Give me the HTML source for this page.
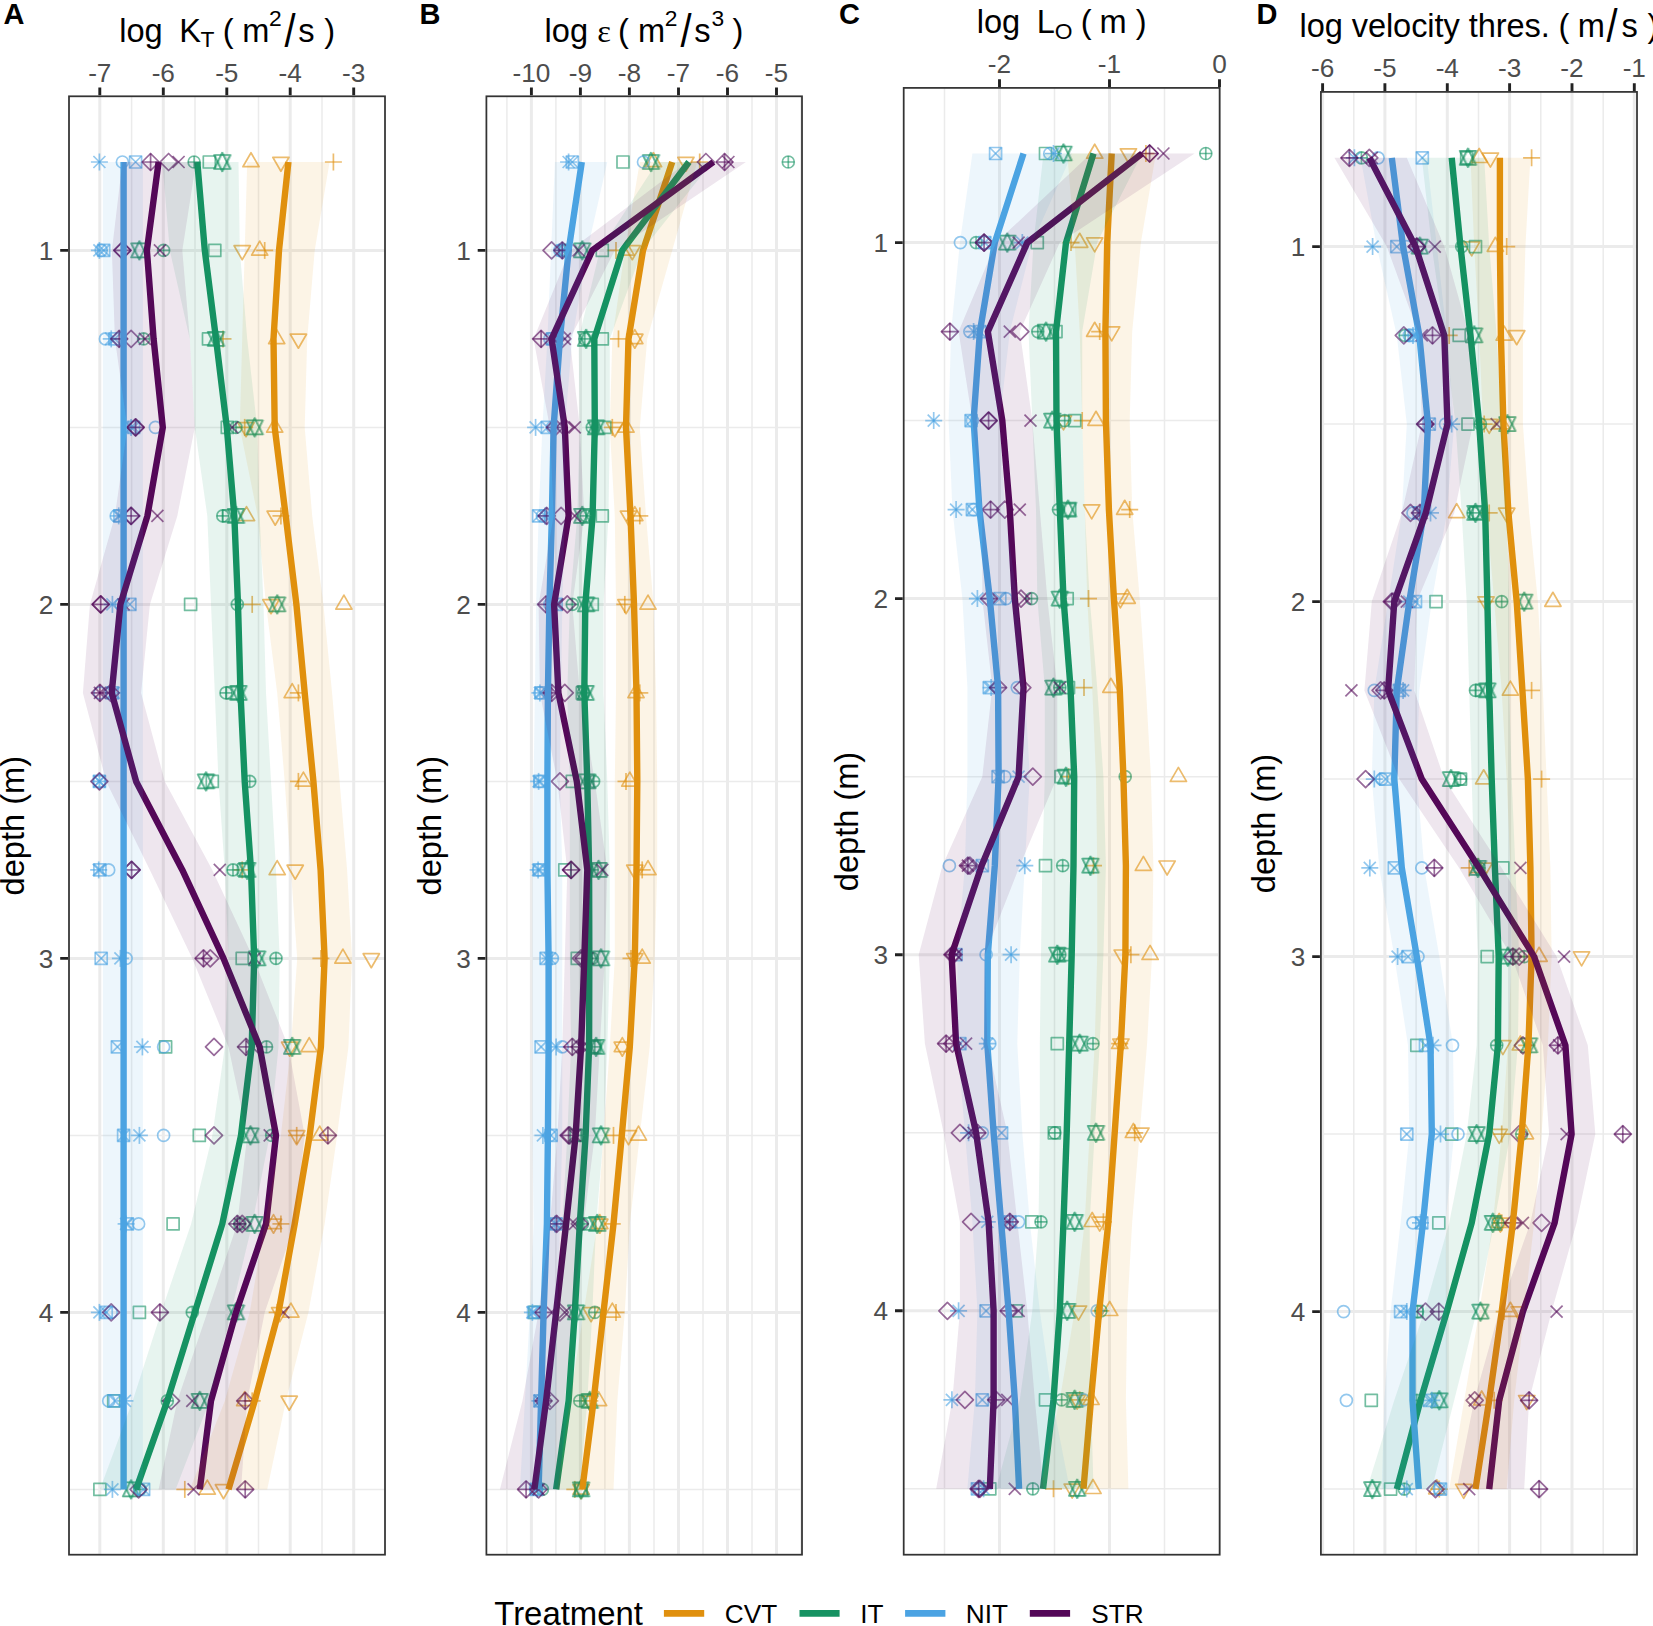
<!DOCTYPE html>
<html lang="en"><head><meta charset="utf-8"><title>Figure</title>
<style>html,body{margin:0;padding:0;background:#fff}svg{display:block}text{font-family:"Liberation Sans", sans-serif;fill:#000}.tk{font-size:26.2px;fill:#4D4D4D}.ti{font-size:32.6px}.ss{font-size:22.8px}.sl{font-size:46.5px}.sy{font-family:"Liberation Serif",serif;font-size:32.6px}.lg{font-size:26.2px}.tag{font-size:29px;font-weight:bold}</style></head><body>
<svg width="1653" height="1626" viewBox="0 0 1653 1626">
<rect width="1653" height="1626" fill="#fff"/>
<defs><g id="msq"><rect x="-6" y="-6" width="12" height="12"/></g><g id="mci"><circle r="6"/></g><g id="mtu"><path d="M0 -9.3L8.1 4.7L-8.1 4.7Z"/></g><g id="mtd"><path d="M0 9.3L8.1 -4.7L-8.1 -4.7Z"/></g><g id="mpl"><path d="M-8.5 0L8.5 0"/><path d="M0 -8.5L0 8.5"/></g><g id="mcr"><path d="M-6 -6L6 6"/><path d="M-6 6L6 -6"/></g><g id="mdi"><path d="M-8.5 0L0 -8.5L8.5 0L0 8.5Z"/></g><g id="msx"><rect x="-6" y="-6" width="12" height="12"/><path d="M-6 -6L6 6"/><path d="M-6 6L6 -6"/></g><g id="mdp"><path d="M-8.5 0L0 -8.5L8.5 0L0 8.5Z"/><path d="M-8.5 0L8.5 0"/><path d="M0 -8.5L0 8.5"/></g><g id="mcp"><circle r="6"/><path d="M-6 0L6 0"/><path d="M0 -6L0 6"/></g><g id="mst"><path d="M-0.3 -9.3L7.8 7L-8.4 7Z"/><path d="M-0.3 9.3L7.8 -7L-8.4 -7Z"/><path stroke-opacity="0.3" d="M0.8 -9.3L8.9 7L-7.3 7Z"/><path stroke-opacity="0.3" d="M0.8 9.3L8.9 -7L-7.3 -7Z"/></g><g id="mas"><path d="M-8.5 0L8.5 0"/><path d="M0 -8.5L0 8.5"/><path d="M-6 -6L6 6"/><path d="M-6 6L6 -6"/></g></defs>
<clipPath id="clipA"><rect x="69" y="96.3" width="316" height="1458.4"/></clipPath>
<g clip-path="url(#clipA)">
<path d="M131.6 96.3V1554.7M195 96.3V1554.7M258.5 96.3V1554.7M322 96.3V1554.7M69 427.4H384.9M69 781.4H384.9M69 1135.4H384.9M69 1489.4H384.9" stroke="#EBEBEB" stroke-width="1.5" fill="none"/>
<path d="M99.8 96.3V1554.7M163.3 96.3V1554.7M226.8 96.3V1554.7M290.2 96.3V1554.7M353.7 96.3V1554.7M69 250.4H384.9M69 604.4H384.9M69 958.4H384.9M69 1312.4H384.9" stroke="#EBEBEB" stroke-width="3" fill="none"/>
<g stroke="#E0900E" stroke-opacity="0.6" stroke-width="1.7" fill="none" stroke-linejoin="round"><use href="#mtu" x="251" y="162"/><use href="#mtd" x="280.9" y="162"/><use href="#mpl" x="333.4" y="162"/><use href="#mtd" x="242.2" y="250.4"/><use href="#mtu" x="259.7" y="250.4"/><use href="#mpl" x="264.7" y="250.4"/><use href="#mpl" x="223" y="338.9"/><use href="#mtu" x="276.7" y="338.9"/><use href="#mtd" x="298.4" y="338.9"/><use href="#mpl" x="244.7" y="427.4"/><use href="#mtd" x="246" y="427.4"/><use href="#mtu" x="274.7" y="427.4"/><use href="#mtu" x="246.5" y="515.9"/><use href="#mtd" x="275.2" y="515.9"/><use href="#mpl" x="280.9" y="515.9"/><use href="#mpl" x="252.2" y="604.4"/><use href="#mtd" x="271" y="604.4"/><use href="#mtu" x="343.9" y="604.4"/><use href="#mtu" x="292.2" y="692.9"/><use href="#mpl" x="298.4" y="692.9"/><use href="#mpl" x="298.4" y="781.4"/><use href="#mtu" x="303.4" y="781.4"/><use href="#mpl" x="242.2" y="869.9"/><use href="#mtu" x="277.2" y="869.9"/><use href="#mtd" x="295.2" y="869.9"/><use href="#mpl" x="320.9" y="958.4"/><use href="#mtu" x="342.9" y="958.4"/><use href="#mtd" x="371.3" y="958.4"/><use href="#mtd" x="289.7" y="1046.9"/><use href="#mtu" x="309.2" y="1046.9"/><use href="#mtd" x="296.7" y="1135.4"/><use href="#mpl" x="296.7" y="1135.4"/><use href="#mtu" x="319.7" y="1135.4"/><use href="#mtu" x="273.5" y="1223.9"/><use href="#mtd" x="273.5" y="1223.9"/><use href="#mpl" x="280.9" y="1223.9"/><use href="#mpl" x="277.2" y="1312.4"/><use href="#mtd" x="279.7" y="1312.4"/><use href="#mtu" x="290.9" y="1312.4"/><use href="#mpl" x="252.2" y="1400.9"/><use href="#mtd" x="289.2" y="1400.9"/><use href="#mtu" x="244.7" y="1400.9"/><use href="#mpl" x="184.8" y="1489.4"/><use href="#mtu" x="207.3" y="1489.4"/><use href="#mtd" x="223.5" y="1489.4"/></g>
<g stroke="#169262" stroke-opacity="0.6" stroke-width="1.7" fill="none" stroke-linejoin="round"><use href="#mcp" x="194.1" y="162"/><use href="#msq" x="209.3" y="162"/><use href="#mst" x="222.3" y="162"/><use href="#mst" x="139.4" y="250.4"/><use href="#mcp" x="163.6" y="250.4"/><use href="#msq" x="214.8" y="250.4"/><use href="#mcp" x="143.6" y="338.9"/><use href="#msq" x="208.5" y="338.9"/><use href="#mst" x="216" y="338.9"/><use href="#msq" x="227.3" y="427.4"/><use href="#mcp" x="236" y="427.4"/><use href="#mst" x="254.7" y="427.4"/><use href="#mcp" x="222.8" y="515.9"/><use href="#msq" x="228.5" y="515.9"/><use href="#mst" x="236" y="515.9"/><use href="#msq" x="190.6" y="604.4"/><use href="#mcp" x="237.3" y="604.4"/><use href="#mst" x="277.2" y="604.4"/><use href="#mcp" x="226" y="692.9"/><use href="#msq" x="232.3" y="692.9"/><use href="#mst" x="238.5" y="692.9"/><use href="#mst" x="206" y="781.4"/><use href="#msq" x="212.3" y="781.4"/><use href="#mcp" x="249.7" y="781.4"/><use href="#mcp" x="233" y="869.9"/><use href="#msq" x="243.5" y="869.9"/><use href="#mst" x="247.2" y="869.9"/><use href="#msq" x="242.2" y="958.4"/><use href="#mst" x="257.2" y="958.4"/><use href="#mcp" x="276" y="958.4"/><use href="#msq" x="165.6" y="1046.9"/><use href="#mcp" x="266.5" y="1046.9"/><use href="#mst" x="292.2" y="1046.9"/><use href="#msq" x="199.3" y="1135.4"/><use href="#mst" x="250.5" y="1135.4"/><use href="#mcp" x="271.7" y="1135.4"/><use href="#msq" x="173.1" y="1223.9"/><use href="#mcp" x="239.8" y="1223.9"/><use href="#mst" x="254.7" y="1223.9"/><use href="#msq" x="139.4" y="1312.4"/><use href="#mcp" x="192.3" y="1312.4"/><use href="#mst" x="236" y="1312.4"/><use href="#msq" x="113.7" y="1400.9"/><use href="#mcp" x="167.3" y="1400.9"/><use href="#mst" x="199.8" y="1400.9"/><use href="#msq" x="99.9" y="1489.4"/><use href="#mst" x="131.1" y="1489.4"/><use href="#mcp" x="139.9" y="1489.4"/></g>
<g stroke="#4BA3E3" stroke-opacity="0.6" stroke-width="1.7" fill="none" stroke-linejoin="round"><use href="#mas" x="99.4" y="162"/><use href="#mci" x="122.4" y="162"/><use href="#msx" x="135.6" y="162"/><use href="#mas" x="99.4" y="250.4"/><use href="#mci" x="101.2" y="250.4"/><use href="#msx" x="103.7" y="250.4"/><use href="#mci" x="105.4" y="338.9"/><use href="#mas" x="111.2" y="338.9"/><use href="#msx" x="114.9" y="338.9"/><use href="#mas" x="131.1" y="427.4"/><use href="#msx" x="133.6" y="427.4"/><use href="#mci" x="155.4" y="427.4"/><use href="#mci" x="116.2" y="515.9"/><use href="#mas" x="118.7" y="515.9"/><use href="#msx" x="119.9" y="515.9"/><use href="#mas" x="112.4" y="604.4"/><use href="#mci" x="121.1" y="604.4"/><use href="#msx" x="129.9" y="604.4"/><use href="#mci" x="99.9" y="692.9"/><use href="#msx" x="112.4" y="692.9"/><use href="#mas" x="113.7" y="692.9"/><use href="#mas" x="99.4" y="781.4"/><use href="#mci" x="99.4" y="781.4"/><use href="#msx" x="99.4" y="781.4"/><use href="#mas" x="98.7" y="869.9"/><use href="#msx" x="99.9" y="869.9"/><use href="#mci" x="108.7" y="869.9"/><use href="#msx" x="101.2" y="958.4"/><use href="#mas" x="120.4" y="958.4"/><use href="#mci" x="126.1" y="958.4"/><use href="#msx" x="117.4" y="1046.9"/><use href="#mas" x="142.4" y="1046.9"/><use href="#mci" x="163.6" y="1046.9"/><use href="#msx" x="123.6" y="1135.4"/><use href="#mas" x="139.4" y="1135.4"/><use href="#mci" x="163.6" y="1135.4"/><use href="#mas" x="126.1" y="1223.9"/><use href="#msx" x="127.4" y="1223.9"/><use href="#mci" x="138.6" y="1223.9"/><use href="#mas" x="99.4" y="1312.4"/><use href="#msx" x="106.2" y="1312.4"/><use href="#mci" x="111.2" y="1312.4"/><use href="#mci" x="108.7" y="1400.9"/><use href="#msx" x="114.9" y="1400.9"/><use href="#mas" x="124.9" y="1400.9"/><use href="#mas" x="112.4" y="1489.4"/><use href="#mci" x="139.9" y="1489.4"/><use href="#msx" x="143.6" y="1489.4"/></g>
<g stroke="#540858" stroke-opacity="0.6" stroke-width="1.7" fill="none" stroke-linejoin="round"><use href="#mdp" x="150.6" y="162"/><use href="#mdi" x="168.6" y="162"/><use href="#mcr" x="178.6" y="162"/><use href="#mdp" x="122.4" y="250.4"/><use href="#mdi" x="122.4" y="250.4"/><use href="#mcr" x="159.9" y="250.4"/><use href="#mdp" x="119.2" y="338.9"/><use href="#mdi" x="131.1" y="338.9"/><use href="#mcr" x="144.9" y="338.9"/><use href="#mdp" x="135.6" y="427.4"/><use href="#mdi" x="135.6" y="427.4"/><use href="#mcr" x="232.3" y="427.4"/><use href="#mdp" x="131.1" y="515.9"/><use href="#mdi" x="131.1" y="515.9"/><use href="#mcr" x="157.4" y="515.9"/><use href="#mdp" x="100.7" y="604.4"/><use href="#mdi" x="100.7" y="604.4"/><use href="#mcr" x="123.6" y="604.4"/><use href="#mdp" x="99.9" y="692.9"/><use href="#mcr" x="99.9" y="692.9"/><use href="#mdi" x="110.7" y="692.9"/><use href="#mdi" x="99.4" y="781.4"/><use href="#mdp" x="131.6" y="869.9"/><use href="#mdi" x="131.6" y="869.9"/><use href="#mcr" x="219.8" y="869.9"/><use href="#mdp" x="203.5" y="958.4"/><use href="#mdi" x="210.3" y="958.4"/><use href="#mcr" x="254.7" y="958.4"/><use href="#mdi" x="214" y="1046.9"/><use href="#mdp" x="246" y="1046.9"/><use href="#mcr" x="252.2" y="1046.9"/><use href="#mdi" x="214" y="1135.4"/><use href="#mcr" x="269.7" y="1135.4"/><use href="#mdp" x="327.9" y="1135.4"/><use href="#mdp" x="237.3" y="1223.9"/><use href="#mdi" x="242.2" y="1223.9"/><use href="#mcr" x="239.8" y="1223.9"/><use href="#mdi" x="111.2" y="1312.4"/><use href="#mdp" x="159.9" y="1312.4"/><use href="#mcr" x="283.4" y="1312.4"/><use href="#mdi" x="171.1" y="1400.9"/><use href="#mcr" x="192.3" y="1400.9"/><use href="#mdp" x="245.2" y="1400.9"/><use href="#mdi" x="138.6" y="1489.4"/><use href="#mcr" x="193.6" y="1489.4"/><use href="#mdp" x="245.2" y="1489.4"/></g>
<path d="M288.4 162L279 250.4L273.5 338.9L274.7 427.4L285.7 515.9L296.4 604.4L304.7 692.9L313.4 781.4L320.6 869.9L324.6 958.4L320.9 1046.9L309.7 1135.4L294.7 1223.9L278.5 1312.4L254.7 1400.9L228.5 1489.4" stroke="#E0900E" stroke-width="6.4" fill="none" stroke-linejoin="round" stroke-linecap="butt"/>
<path d="M197.3 162L204.8 250.4L216 338.9L226.8 427.4L234.3 515.9L238 604.4L240.5 692.9L244.7 781.4L251 869.9L254.2 958.4L251.7 1046.9L241 1135.4L222.3 1223.9L194.8 1312.4L167.3 1400.9L136.1 1489.4" stroke="#169262" stroke-width="6.4" fill="none" stroke-linejoin="round" stroke-linecap="butt"/>
<path d="M123.6 162L123.6 250.4L123.6 338.9L123.6 427.4L123.6 515.9L123.6 604.4L123.6 692.9L123.6 781.4L123.6 869.9L123.6 958.4L123.6 1046.9L123.6 1135.4L123.6 1223.9L123.6 1312.4L123.6 1400.9L123.6 1489.4" stroke="#4BA3E3" stroke-width="6.4" fill="none" stroke-linejoin="round" stroke-linecap="butt"/>
<path d="M158.6 162L146.9 250.4L153.6 338.9L162.8 427.4L147.4 515.9L120.4 604.4L111.7 692.9L136.1 781.4L182.3 869.9L223.5 958.4L259.7 1046.9L276 1135.4L266 1223.9L236 1312.4L211 1400.9L199.8 1489.4" stroke="#540858" stroke-width="6.4" fill="none" stroke-linejoin="round" stroke-linecap="butt"/>
<path d="M329.6 162L314.7 250.4L307.2 338.9L304.7 427.4L312.2 515.9L323.4 604.4L332.1 692.9L339.6 781.4L347.1 869.9L352.1 958.4L348.4 1046.9L337.1 1135.4L324.6 1223.9L308.4 1312.4L285.9 1400.9L267.2 1489.4L189.8 1489.4L224.8 1400.9L249.7 1312.4L264.7 1223.9L280.9 1135.4L290.9 1046.9L297.2 958.4L290.9 869.9L284.7 781.4L277.2 692.9L266 604.4L257.7 515.9L239.8 427.4L242.2 338.9L244.7 250.4L247.2 162Z" fill="#E0900E" fill-opacity="0.1"/>
<path d="M238.5 162L239.8 250.4L247.2 338.9L257.2 427.4L259.7 515.9L263.5 604.4L266 692.9L271 781.4L276 869.9L279.7 958.4L278.5 1046.9L269.7 1135.4L252.2 1223.9L231 1312.4L209.5 1400.9L175.6 1489.4L99.9 1489.4L132.6 1400.9L161.1 1312.4L191.1 1223.9L212.3 1135.4L224.8 1046.9L228.5 958.4L224.8 869.9L218.5 781.4L214.8 692.9L211 604.4L207.3 515.9L194.8 427.4L189.8 338.9L169.8 250.4L162.3 162Z" fill="#169262" fill-opacity="0.1"/>
<path d="M142.9 162L142.9 250.4L142.9 338.9L142.9 427.4L142.9 515.9L142.9 604.4L142.9 692.9L142.9 781.4L142.9 869.9L142.9 958.4L142.9 1046.9L142.9 1135.4L142.9 1223.9L142.9 1312.4L142.9 1400.9L142.9 1489.4L102.9 1489.4L102.9 1400.9L102.9 1312.4L102.9 1223.9L102.9 1135.4L102.9 1046.9L102.9 958.4L102.9 869.9L102.9 781.4L102.9 692.9L102.9 604.4L102.9 515.9L102.9 427.4L102.9 338.9L102.9 250.4L102.9 162Z" fill="#4BA3E3" fill-opacity="0.1"/>
<path d="M196.1 162L182.3 250.4L189.8 338.9L194.8 427.4L177.3 515.9L149.9 604.4L141.1 692.9L164.8 781.4L212.3 869.9L253.5 958.4L288.4 1046.9L304.7 1135.4L294.7 1223.9L264.7 1312.4L247.2 1400.9L241 1489.4L158.6 1489.4L177.3 1400.9L207.3 1312.4L237.3 1223.9L247.2 1135.4L228.5 1046.9L192.3 958.4L149.9 869.9L106.2 781.4L82.9 692.9L89.9 604.4L114.9 515.9L127.4 427.4L114.9 338.9L111.9 250.4L122.4 162Z" fill="#540858" fill-opacity="0.1"/>
</g>
<rect x="69" y="96.3" width="316" height="1458.4" fill="none" stroke="#333333" stroke-width="1.75"/>
<path d="M99.8 95.3V87.6M163.3 95.3V87.6M226.8 95.3V87.6M290.2 95.3V87.6M353.7 95.3V87.6M68 250.4H60.2M68 604.4H60.2M68 958.4H60.2M68 1312.4H60.2" stroke="#222222" stroke-width="2.9" fill="none"/>
<text x="99.8" y="81.7" text-anchor="middle" class="tk">-7</text>
<text x="163.3" y="81.7" text-anchor="middle" class="tk">-6</text>
<text x="226.8" y="81.7" text-anchor="middle" class="tk">-5</text>
<text x="290.2" y="81.7" text-anchor="middle" class="tk">-4</text>
<text x="353.7" y="81.7" text-anchor="middle" class="tk">-3</text>
<text x="53.4" y="260.1" text-anchor="end" class="tk">1</text>
<text x="53.4" y="614" text-anchor="end" class="tk">2</text>
<text x="53.4" y="968" text-anchor="end" class="tk">3</text>
<text x="53.4" y="1322" text-anchor="end" class="tk">4</text>
<text transform="translate(23.8 825.7) rotate(-90)" text-anchor="middle" class="ti">depth (m)</text>
<clipPath id="clipB"><rect x="486.4" y="96.3" width="315.6" height="1458.4"/></clipPath>
<g clip-path="url(#clipB)">
<path d="M506.9 96.3V1554.7M555.9 96.3V1554.7M604.9 96.3V1554.7M654 96.3V1554.7M703 96.3V1554.7M752 96.3V1554.7M801 96.3V1554.7M486.4 427.4H802M486.4 781.4H802M486.4 1135.4H802M486.4 1489.4H802" stroke="#EBEBEB" stroke-width="1.5" fill="none"/>
<path d="M531.4 96.3V1554.7M580.4 96.3V1554.7M629.4 96.3V1554.7M678.5 96.3V1554.7M727.5 96.3V1554.7M776.5 96.3V1554.7M486.4 250.4H802M486.4 604.4H802M486.4 958.4H802M486.4 1312.4H802" stroke="#EBEBEB" stroke-width="3" fill="none"/>
<g stroke="#E0900E" stroke-opacity="0.6" stroke-width="1.7" fill="none" stroke-linejoin="round"><use href="#mtu" x="653.5" y="162"/><use href="#mtd" x="685.9" y="162"/><use href="#mpl" x="699.7" y="162"/><use href="#mpl" x="616" y="250.4"/><use href="#mtu" x="626" y="250.4"/><use href="#mtd" x="632.3" y="250.4"/><use href="#mpl" x="618.5" y="338.9"/><use href="#mtu" x="634.8" y="338.9"/><use href="#mtd" x="634.8" y="338.9"/><use href="#mpl" x="612.3" y="427.4"/><use href="#mtd" x="614.8" y="427.4"/><use href="#mtu" x="626" y="427.4"/><use href="#mtd" x="628.5" y="515.9"/><use href="#mtu" x="634.8" y="515.9"/><use href="#mpl" x="639.8" y="515.9"/><use href="#mpl" x="624.8" y="604.4"/><use href="#mtd" x="626" y="604.4"/><use href="#mtu" x="648" y="604.4"/><use href="#mtu" x="636" y="692.9"/><use href="#mpl" x="639.8" y="692.9"/><use href="#mpl" x="626" y="781.4"/><use href="#mtu" x="629.8" y="781.4"/><use href="#mtd" x="634.8" y="869.9"/><use href="#mpl" x="642.2" y="869.9"/><use href="#mtu" x="648" y="869.9"/><use href="#mpl" x="631" y="958.4"/><use href="#mtd" x="634.8" y="958.4"/><use href="#mtu" x="642.2" y="958.4"/><use href="#mtu" x="622.3" y="1046.9"/><use href="#mtd" x="622.3" y="1046.9"/><use href="#mpl" x="613.5" y="1135.4"/><use href="#mtd" x="628.5" y="1135.4"/><use href="#mtu" x="638.5" y="1135.4"/><use href="#mtu" x="599.8" y="1223.9"/><use href="#mtd" x="599.8" y="1223.9"/><use href="#mpl" x="612.3" y="1223.9"/><use href="#mtd" x="591.1" y="1312.4"/><use href="#mtu" x="612.3" y="1312.4"/><use href="#mpl" x="616" y="1312.4"/><use href="#mtu" x="598.6" y="1400.9"/><use href="#mtd" x="589.8" y="1400.9"/><use href="#mpl" x="589.8" y="1400.9"/><use href="#mpl" x="574.8" y="1489.4"/><use href="#mtu" x="581.1" y="1489.4"/><use href="#mtd" x="581.1" y="1489.4"/></g>
<g stroke="#169262" stroke-opacity="0.6" stroke-width="1.7" fill="none" stroke-linejoin="round"><use href="#msq" x="623" y="162"/><use href="#mst" x="651" y="162"/><use href="#mcp" x="788.3" y="162"/><use href="#mcp" x="564.8" y="250.4"/><use href="#mst" x="582.3" y="250.4"/><use href="#msq" x="602.3" y="250.4"/><use href="#mcp" x="584.8" y="338.9"/><use href="#mst" x="586.1" y="338.9"/><use href="#msq" x="602.3" y="338.9"/><use href="#mcp" x="592.3" y="427.4"/><use href="#mst" x="596.1" y="427.4"/><use href="#msq" x="604.8" y="427.4"/><use href="#mst" x="582.3" y="515.9"/><use href="#mcp" x="586.1" y="515.9"/><use href="#msq" x="602.3" y="515.9"/><use href="#mcp" x="572.3" y="604.4"/><use href="#mst" x="586.1" y="604.4"/><use href="#msq" x="592.3" y="604.4"/><use href="#msq" x="582.3" y="692.9"/><use href="#mst" x="585.6" y="692.9"/><use href="#mcp" x="583.6" y="692.9"/><use href="#msq" x="572.3" y="781.4"/><use href="#mst" x="587.3" y="781.4"/><use href="#mcp" x="593.6" y="781.4"/><use href="#msq" x="564.8" y="869.9"/><use href="#mcp" x="592.3" y="869.9"/><use href="#mst" x="598.6" y="869.9"/><use href="#msq" x="577.3" y="958.4"/><use href="#mcp" x="592.3" y="958.4"/><use href="#mst" x="601" y="958.4"/><use href="#mst" x="596.1" y="1046.9"/><use href="#msq" x="594.8" y="1046.9"/><use href="#mcp" x="594.8" y="1046.9"/><use href="#mcp" x="581.1" y="1135.4"/><use href="#msq" x="576.1" y="1135.4"/><use href="#mst" x="601" y="1135.4"/><use href="#mcp" x="582.3" y="1223.9"/><use href="#msq" x="589.8" y="1223.9"/><use href="#mst" x="597.3" y="1223.9"/><use href="#msq" x="534.9" y="1312.4"/><use href="#mst" x="576.1" y="1312.4"/><use href="#mcp" x="594.8" y="1312.4"/><use href="#mcp" x="579.8" y="1400.9"/><use href="#mst" x="589.8" y="1400.9"/><use href="#msq" x="587.3" y="1400.9"/><use href="#mcp" x="542.4" y="1489.4"/><use href="#mst" x="581.1" y="1489.4"/><use href="#msq" x="581.1" y="1489.4"/></g>
<g stroke="#4BA3E3" stroke-opacity="0.6" stroke-width="1.7" fill="none" stroke-linejoin="round"><use href="#mas" x="568.6" y="162"/><use href="#msx" x="572.3" y="162"/><use href="#mci" x="643.5" y="162"/><use href="#mci" x="559.9" y="250.4"/><use href="#mas" x="562.3" y="250.4"/><use href="#msx" x="564.8" y="250.4"/><use href="#msx" x="552.4" y="338.9"/><use href="#mas" x="557.4" y="338.9"/><use href="#mci" x="549.9" y="338.9"/><use href="#mas" x="535.6" y="427.4"/><use href="#msx" x="547.4" y="427.4"/><use href="#mci" x="552.4" y="427.4"/><use href="#msx" x="538.6" y="515.9"/><use href="#mci" x="542.4" y="515.9"/><use href="#mas" x="544.9" y="515.9"/><use href="#msx" x="556.1" y="604.4"/><use href="#mas" x="552.4" y="604.4"/><use href="#mci" x="549.9" y="604.4"/><use href="#mas" x="539.9" y="692.9"/><use href="#mci" x="539.9" y="692.9"/><use href="#msx" x="541.1" y="692.9"/><use href="#mas" x="538.6" y="781.4"/><use href="#msx" x="539.9" y="781.4"/><use href="#mci" x="539.9" y="781.4"/><use href="#mas" x="538.1" y="869.9"/><use href="#mci" x="538.6" y="869.9"/><use href="#msx" x="539.4" y="869.9"/><use href="#msx" x="546.1" y="958.4"/><use href="#mci" x="552.4" y="958.4"/><use href="#mas" x="549.9" y="958.4"/><use href="#msx" x="541.1" y="1046.9"/><use href="#mas" x="556.1" y="1046.9"/><use href="#mci" x="562.3" y="1046.9"/><use href="#mas" x="542.9" y="1135.4"/><use href="#msx" x="551.1" y="1135.4"/><use href="#mci" x="549.9" y="1135.4"/><use href="#mci" x="554.9" y="1223.9"/><use href="#mas" x="554.9" y="1223.9"/><use href="#msx" x="556.1" y="1223.9"/><use href="#mas" x="532.4" y="1312.4"/><use href="#msx" x="533.6" y="1312.4"/><use href="#mci" x="536.1" y="1312.4"/><use href="#mas" x="539.9" y="1400.9"/><use href="#msx" x="539.9" y="1400.9"/><use href="#mci" x="539.9" y="1400.9"/><use href="#mci" x="536.1" y="1489.4"/><use href="#msx" x="536.1" y="1489.4"/><use href="#mas" x="537.4" y="1489.4"/></g>
<g stroke="#540858" stroke-opacity="0.6" stroke-width="1.7" fill="none" stroke-linejoin="round"><use href="#mdi" x="705.9" y="162"/><use href="#mdp" x="724.6" y="162"/><use href="#mcr" x="728.4" y="162"/><use href="#mdi" x="551.6" y="250.4"/><use href="#mdp" x="562.3" y="250.4"/><use href="#mcr" x="578.6" y="250.4"/><use href="#mdp" x="541.1" y="338.9"/><use href="#mdi" x="562.3" y="338.9"/><use href="#mcr" x="564.8" y="338.9"/><use href="#mdp" x="554.9" y="427.4"/><use href="#mdi" x="564.8" y="427.4"/><use href="#mcr" x="574.8" y="427.4"/><use href="#mdp" x="546.6" y="515.9"/><use href="#mdi" x="561.1" y="515.9"/><use href="#mcr" x="574.8" y="515.9"/><use href="#mdp" x="546.1" y="604.4"/><use href="#mdi" x="567.3" y="604.4"/><use href="#mcr" x="557.4" y="604.4"/><use href="#mdp" x="551.6" y="692.9"/><use href="#mcr" x="556.1" y="692.9"/><use href="#mdi" x="564.8" y="692.9"/><use href="#mdi" x="559.9" y="781.4"/><use href="#mdp" x="571.1" y="869.9"/><use href="#mcr" x="602.3" y="869.9"/><use href="#mdi" x="571.1" y="869.9"/><use href="#mdp" x="583.6" y="958.4"/><use href="#mdi" x="581.1" y="958.4"/><use href="#mcr" x="587.3" y="958.4"/><use href="#mdp" x="572.3" y="1046.9"/><use href="#mdi" x="579.8" y="1046.9"/><use href="#mcr" x="582.3" y="1046.9"/><use href="#mdp" x="568.6" y="1135.4"/><use href="#mdi" x="569.8" y="1135.4"/><use href="#mcr" x="574.8" y="1135.4"/><use href="#mdp" x="556.6" y="1223.9"/><use href="#mdi" x="579.8" y="1223.9"/><use href="#mcr" x="574.8" y="1223.9"/><use href="#mdp" x="543.6" y="1312.4"/><use href="#mdi" x="559.9" y="1312.4"/><use href="#mcr" x="564.8" y="1312.4"/><use href="#mdp" x="543.6" y="1400.9"/><use href="#mdi" x="549.9" y="1400.9"/><use href="#mcr" x="544.9" y="1400.9"/><use href="#mdp" x="526.1" y="1489.4"/><use href="#mdi" x="538.6" y="1489.4"/><use href="#mcr" x="538.6" y="1489.4"/></g>
<path d="M672.2 162L643 250.4L628.5 338.9L626 427.4L630.5 515.9L634 604.4L636.5 692.9L637.3 781.4L636.5 869.9L634.8 958.4L629.8 1046.9L621.8 1135.4L613.5 1223.9L603.5 1312.4L593.6 1400.9L582.3 1489.4" stroke="#E0900E" stroke-width="6.4" fill="none" stroke-linejoin="round" stroke-linecap="butt"/>
<path d="M688.9 162L622.3 250.4L594.3 338.9L594.8 427.4L592.6 515.9L585.3 604.4L584.3 692.9L587.3 781.4L589.1 869.9L589.3 958.4L589.1 1046.9L585.6 1135.4L579.8 1223.9L574.8 1312.4L568.6 1400.9L556.1 1489.4" stroke="#169262" stroke-width="6.4" fill="none" stroke-linejoin="round" stroke-linecap="butt"/>
<path d="M581.8 162L568.6 250.4L559.9 338.9L553.6 427.4L551.9 515.9L549.4 604.4L547.9 692.9L547.4 781.4L547.4 869.9L548.6 958.4L548.6 1046.9L547.9 1135.4L546.9 1223.9L543.6 1312.4L541.1 1400.9L538.6 1489.4" stroke="#4BA3E3" stroke-width="6.4" fill="none" stroke-linejoin="round" stroke-linecap="butt"/>
<path d="M713.4 162L592.3 250.4L551.6 338.9L564.8 427.4L568.6 515.9L554.1 604.4L558.4 692.9L576.8 781.4L587.3 869.9L584.3 958.4L581.1 1046.9L575.6 1135.4L566.1 1223.9L556.1 1312.4L546.1 1400.9L534.4 1489.4" stroke="#540858" stroke-width="6.4" fill="none" stroke-linejoin="round" stroke-linecap="butt"/>
<path d="M697.2 162L672.2 250.4L647.2 338.9L639.8 427.4L646 515.9L653.5 604.4L656 692.9L657.2 781.4L657.2 869.9L654.7 958.4L649.7 1046.9L639.8 1135.4L629.8 1223.9L624.8 1312.4L617.3 1400.9L613.5 1489.4L557.4 1489.4L569.8 1400.9L583.6 1312.4L597.3 1223.9L603.5 1135.4L609.8 1046.9L614.8 958.4L614.8 869.9L614.8 781.4L616 692.9L616 604.4L614.8 515.9L609.8 427.4L612.3 338.9L624.8 250.4L639.8 162Z" fill="#E0900E" fill-opacity="0.1"/>
<path d="M712.2 162L642.2 250.4L609.8 338.9L609.8 427.4L608.5 515.9L603.5 604.4L603.5 692.9L607.3 781.4L609.8 869.9L609.8 958.4L607.3 1046.9L603.5 1135.4L596.1 1223.9L592.3 1312.4L587.3 1400.9L579.8 1489.4L534.9 1489.4L549.9 1400.9L557.4 1312.4L562.3 1223.9L567.3 1135.4L571.1 1046.9L569.8 958.4L569.8 869.9L569.8 781.4L567.3 692.9L569.8 604.4L577.3 515.9L579.8 427.4L578.6 338.9L599.8 250.4L657.2 162Z" fill="#169262" fill-opacity="0.1"/>
<path d="M607.3 162L587.3 250.4L572.3 338.9L564.8 427.4L564.8 515.9L562.3 604.4L561.1 692.9L559.9 781.4L562.3 869.9L562.3 958.4L562.3 1046.9L562.3 1135.4L559.9 1223.9L557.4 1312.4L556.1 1400.9L554.9 1489.4L519.9 1489.4L524.9 1400.9L529.9 1312.4L533.6 1223.9L532.4 1135.4L532.4 1046.9L532.4 958.4L532.4 869.9L533.6 781.4L534.9 692.9L536.1 604.4L538.6 515.9L542.4 427.4L547.4 338.9L551.1 250.4L554.9 162Z" fill="#4BA3E3" fill-opacity="0.1"/>
<path d="M745.9 162L614.8 250.4L569.8 338.9L579.8 427.4L584.3 515.9L572.3 604.4L579.8 692.9L594.8 781.4L607.3 869.9L604.8 958.4L599.8 1046.9L594.8 1135.4L583.6 1223.9L572.3 1312.4L564.8 1400.9L559.9 1489.4L499.9 1489.4L522.4 1400.9L538.6 1312.4L549.9 1223.9L557.4 1135.4L562.3 1046.9L564.8 958.4L567.3 869.9L557.4 781.4L539.9 692.9L538.6 604.4L553.6 515.9L549.9 427.4L533.6 338.9L569.8 250.4L687.2 162Z" fill="#540858" fill-opacity="0.1"/>
</g>
<rect x="486.4" y="96.3" width="315.6" height="1458.4" fill="none" stroke="#333333" stroke-width="1.75"/>
<path d="M531.4 95.3V87.6M580.4 95.3V87.6M629.4 95.3V87.6M678.5 95.3V87.6M727.5 95.3V87.6M776.5 95.3V87.6M485.4 250.4H477.7M485.4 604.4H477.7M485.4 958.4H477.7M485.4 1312.4H477.7" stroke="#222222" stroke-width="2.9" fill="none"/>
<text x="531.4" y="81.7" text-anchor="middle" class="tk">-10</text>
<text x="580.4" y="81.7" text-anchor="middle" class="tk">-9</text>
<text x="629.4" y="81.7" text-anchor="middle" class="tk">-8</text>
<text x="678.5" y="81.7" text-anchor="middle" class="tk">-7</text>
<text x="727.5" y="81.7" text-anchor="middle" class="tk">-6</text>
<text x="776.5" y="81.7" text-anchor="middle" class="tk">-5</text>
<text x="470.8" y="260.1" text-anchor="end" class="tk">1</text>
<text x="470.8" y="614" text-anchor="end" class="tk">2</text>
<text x="470.8" y="968" text-anchor="end" class="tk">3</text>
<text x="470.8" y="1322" text-anchor="end" class="tk">4</text>
<text transform="translate(440.8 825.7) rotate(-90)" text-anchor="middle" class="ti">depth (m)</text>
<clipPath id="clipC"><rect x="903.7" y="87.9" width="316" height="1466.8"/></clipPath>
<g clip-path="url(#clipC)">
<path d="M944.5 87.9V1554.7M1054.5 87.9V1554.7M1164.5 87.9V1554.7M903.7 420.6H1219.7M903.7 776.7H1219.7M903.7 1132.8H1219.7M903.7 1488.8H1219.7" stroke="#EBEBEB" stroke-width="1.5" fill="none"/>
<path d="M999.5 87.9V1554.7M1109.5 87.9V1554.7M1219.5 87.9V1554.7M903.7 242.6H1219.7M903.7 598.6H1219.7M903.7 954.7H1219.7M903.7 1310.8H1219.7" stroke="#EBEBEB" stroke-width="3" fill="none"/>
<g stroke="#E0900E" stroke-opacity="0.6" stroke-width="1.7" fill="none" stroke-linejoin="round"><use href="#mtu" x="1094.7" y="153.5"/><use href="#mtd" x="1128.4" y="153.5"/><use href="#mpl" x="1145.9" y="153.5"/><use href="#mpl" x="1071" y="242.6"/><use href="#mtu" x="1079.7" y="242.6"/><use href="#mtd" x="1094.7" y="242.6"/><use href="#mtu" x="1094.7" y="331.6"/><use href="#mpl" x="1099.7" y="331.6"/><use href="#mtd" x="1111.7" y="331.6"/><use href="#mtd" x="1063.5" y="420.6"/><use href="#mpl" x="1082.2" y="420.6"/><use href="#mtu" x="1096" y="420.6"/><use href="#mtd" x="1091.7" y="509.6"/><use href="#mtu" x="1124.7" y="509.6"/><use href="#mpl" x="1129.7" y="509.6"/><use href="#mpl" x="1088.5" y="598.6"/><use href="#mtd" x="1120.4" y="598.6"/><use href="#mtu" x="1127.2" y="598.6"/><use href="#mpl" x="1084" y="687.6"/><use href="#mtu" x="1110.9" y="687.6"/><use href="#mpl" x="1068.5" y="776.7"/><use href="#mtu" x="1178.4" y="776.7"/><use href="#mpl" x="1093.5" y="865.7"/><use href="#mtu" x="1143.4" y="865.7"/><use href="#mtd" x="1167.1" y="865.7"/><use href="#mtd" x="1122.2" y="954.7"/><use href="#mpl" x="1130.9" y="954.7"/><use href="#mtu" x="1150.1" y="954.7"/><use href="#mtu" x="1119.7" y="1043.7"/><use href="#mtd" x="1120.9" y="1043.7"/><use href="#mpl" x="1119.7" y="1043.7"/><use href="#mtu" x="1133.4" y="1132.8"/><use href="#mpl" x="1134.7" y="1132.8"/><use href="#mtd" x="1140.9" y="1132.8"/><use href="#mtu" x="1092.2" y="1221.8"/><use href="#mtd" x="1099.7" y="1221.8"/><use href="#mpl" x="1103.4" y="1221.8"/><use href="#mtd" x="1078.5" y="1310.8"/><use href="#mpl" x="1100.9" y="1310.8"/><use href="#mtu" x="1109.7" y="1310.8"/><use href="#mtd" x="1077.2" y="1399.8"/><use href="#mtu" x="1091" y="1399.8"/><use href="#mpl" x="1079.7" y="1399.8"/><use href="#mpl" x="1053.5" y="1488.8"/><use href="#mtd" x="1072.2" y="1488.8"/><use href="#mtu" x="1093" y="1488.8"/></g>
<g stroke="#169262" stroke-opacity="0.6" stroke-width="1.7" fill="none" stroke-linejoin="round"><use href="#msq" x="1045.5" y="153.5"/><use href="#mst" x="1063.5" y="153.5"/><use href="#mcp" x="1205.8" y="153.5"/><use href="#mcp" x="976.1" y="242.6"/><use href="#mst" x="1007.3" y="242.6"/><use href="#msq" x="1037.3" y="242.6"/><use href="#mcp" x="1037.8" y="331.6"/><use href="#mst" x="1046" y="331.6"/><use href="#msq" x="1056" y="331.6"/><use href="#mst" x="1052.3" y="420.6"/><use href="#mcp" x="1064.7" y="420.6"/><use href="#msq" x="1074.7" y="420.6"/><use href="#mcp" x="1058.5" y="509.6"/><use href="#mst" x="1068" y="509.6"/><use href="#msq" x="1069.7" y="509.6"/><use href="#mcp" x="1031.5" y="598.6"/><use href="#mst" x="1059.8" y="598.6"/><use href="#msq" x="1067.2" y="598.6"/><use href="#mst" x="1053.5" y="687.6"/><use href="#mcp" x="1059.8" y="687.6"/><use href="#msq" x="1068.5" y="687.6"/><use href="#msq" x="1061" y="776.7"/><use href="#mst" x="1066" y="776.7"/><use href="#mcp" x="1125.2" y="776.7"/><use href="#msq" x="1045.5" y="865.7"/><use href="#mcp" x="1062.7" y="865.7"/><use href="#mst" x="1090.5" y="865.7"/><use href="#mst" x="1057.3" y="954.7"/><use href="#mcp" x="1059.8" y="954.7"/><use href="#msq" x="1063.5" y="954.7"/><use href="#msq" x="1057.3" y="1043.7"/><use href="#mst" x="1079.7" y="1043.7"/><use href="#mcp" x="1093" y="1043.7"/><use href="#msq" x="1054.3" y="1132.8"/><use href="#mcp" x="1054.8" y="1132.8"/><use href="#mst" x="1096" y="1132.8"/><use href="#msq" x="1031.8" y="1221.8"/><use href="#mcp" x="1041" y="1221.8"/><use href="#mst" x="1074.7" y="1221.8"/><use href="#msq" x="1016.1" y="1310.8"/><use href="#mst" x="1067.2" y="1310.8"/><use href="#mcp" x="1100.9" y="1310.8"/><use href="#msq" x="1045.5" y="1399.8"/><use href="#mcp" x="1061.7" y="1399.8"/><use href="#mst" x="1074.7" y="1399.8"/><use href="#msq" x="989.8" y="1488.8"/><use href="#mcp" x="1032.8" y="1488.8"/><use href="#mst" x="1077.2" y="1488.8"/></g>
<g stroke="#4BA3E3" stroke-opacity="0.6" stroke-width="1.7" fill="none" stroke-linejoin="round"><use href="#msx" x="995.6" y="153.5"/><use href="#mci" x="1049.8" y="153.5"/><use href="#mas" x="1053.5" y="153.5"/><use href="#mci" x="960.4" y="242.6"/><use href="#msx" x="984.8" y="242.6"/><use href="#mas" x="1022.3" y="242.6"/><use href="#mci" x="969.9" y="331.6"/><use href="#mas" x="973.6" y="331.6"/><use href="#msx" x="979.9" y="331.6"/><use href="#mas" x="933.7" y="420.6"/><use href="#msx" x="971.1" y="420.6"/><use href="#mci" x="972.4" y="420.6"/><use href="#mas" x="956.1" y="509.6"/><use href="#msx" x="972.4" y="509.6"/><use href="#mci" x="973.6" y="509.6"/><use href="#mas" x="977.4" y="598.6"/><use href="#msx" x="999.8" y="598.6"/><use href="#mci" x="1006.1" y="598.6"/><use href="#msx" x="989.3" y="687.6"/><use href="#mas" x="991.1" y="687.6"/><use href="#mci" x="1017.3" y="687.6"/><use href="#msx" x="998.1" y="776.7"/><use href="#mci" x="1004.8" y="776.7"/><use href="#mas" x="1018.6" y="776.7"/><use href="#mci" x="949.4" y="865.7"/><use href="#msx" x="982.3" y="865.7"/><use href="#mas" x="1024.8" y="865.7"/><use href="#msx" x="956.1" y="954.7"/><use href="#mci" x="986.1" y="954.7"/><use href="#mas" x="1011.1" y="954.7"/><use href="#msx" x="959.9" y="1043.7"/><use href="#mas" x="987.3" y="1043.7"/><use href="#mci" x="989.8" y="1043.7"/><use href="#mas" x="968.6" y="1132.8"/><use href="#mci" x="982.3" y="1132.8"/><use href="#msx" x="1001.6" y="1132.8"/><use href="#mas" x="987.3" y="1221.8"/><use href="#mci" x="1018.6" y="1221.8"/><use href="#msx" x="1009.8" y="1221.8"/><use href="#mas" x="958.6" y="1310.8"/><use href="#msx" x="986.1" y="1310.8"/><use href="#mci" x="1097.2" y="1310.8"/><use href="#mas" x="951.9" y="1399.8"/><use href="#msx" x="982.3" y="1399.8"/><use href="#mci" x="1083.5" y="1399.8"/><use href="#msx" x="977.4" y="1488.8"/><use href="#mas" x="983.6" y="1488.8"/><use href="#mci" x="979.9" y="1488.8"/></g>
<g stroke="#540858" stroke-opacity="0.6" stroke-width="1.7" fill="none" stroke-linejoin="round"><use href="#mdp" x="1149.6" y="153.5"/><use href="#mdi" x="1149.6" y="153.5"/><use href="#mcr" x="1163.4" y="153.5"/><use href="#mdp" x="984.1" y="242.6"/><use href="#mdi" x="984.1" y="242.6"/><use href="#mcr" x="1018.6" y="242.6"/><use href="#mdp" x="949.9" y="331.6"/><use href="#mcr" x="1009.8" y="331.6"/><use href="#mdi" x="1020.3" y="331.6"/><use href="#mdp" x="988.6" y="420.6"/><use href="#mdi" x="988.6" y="420.6"/><use href="#mcr" x="1030.5" y="420.6"/><use href="#mdp" x="990.6" y="509.6"/><use href="#mdi" x="1004.8" y="509.6"/><use href="#mcr" x="1019.8" y="509.6"/><use href="#mdp" x="989.1" y="598.6"/><use href="#mdi" x="1021" y="598.6"/><use href="#mcr" x="1024.8" y="598.6"/><use href="#mdp" x="998.1" y="687.6"/><use href="#mdi" x="1022.3" y="687.6"/><use href="#mcr" x="1059.8" y="687.6"/><use href="#mdi" x="1032.8" y="776.7"/><use href="#mdp" x="967.9" y="865.7"/><use href="#mcr" x="967.9" y="865.7"/><use href="#mdi" x="969.9" y="865.7"/><use href="#mdp" x="952.4" y="954.7"/><use href="#mdi" x="953.6" y="954.7"/><use href="#mcr" x="956.1" y="954.7"/><use href="#mdp" x="946.1" y="1043.7"/><use href="#mdi" x="952.4" y="1043.7"/><use href="#mcr" x="966.1" y="1043.7"/><use href="#mdi" x="959.9" y="1132.8"/><use href="#mcr" x="973.6" y="1132.8"/><use href="#mdp" x="977.4" y="1132.8"/><use href="#mdi" x="971.1" y="1221.8"/><use href="#mdp" x="1009.8" y="1221.8"/><use href="#mcr" x="1007.3" y="1221.8"/><use href="#mdi" x="947.4" y="1310.8"/><use href="#mdp" x="1008.6" y="1310.8"/><use href="#mcr" x="1018.6" y="1310.8"/><use href="#mdi" x="964.9" y="1399.8"/><use href="#mdp" x="996.1" y="1399.8"/><use href="#mcr" x="1007.3" y="1399.8"/><use href="#mdp" x="978.6" y="1488.8"/><use href="#mdi" x="979.9" y="1488.8"/><use href="#mcr" x="1014.8" y="1488.8"/></g>
<path d="M1111.7 153.5L1107.2 242.6L1105.4 331.6L1105.9 420.6L1108.9 509.6L1113.9 598.6L1119.7 687.6L1123.4 776.7L1125.9 865.7L1125.4 954.7L1120.9 1043.7L1114.7 1132.8L1108.4 1221.8L1099.2 1310.8L1091 1399.8L1083.5 1488.8" stroke="#E0900E" stroke-width="6.4" fill="none" stroke-linejoin="round" stroke-linecap="butt"/>
<path d="M1093.5 153.5L1066 242.6L1056 331.6L1056.5 420.6L1059.8 509.6L1063.5 598.6L1070.5 687.6L1074.2 776.7L1073.5 865.7L1071.7 954.7L1069.2 1043.7L1066.7 1132.8L1063.5 1221.8L1059.8 1310.8L1053.5 1399.8L1043 1488.8" stroke="#169262" stroke-width="6.4" fill="none" stroke-linejoin="round" stroke-linecap="butt"/>
<path d="M1023.5 153.5L994.8 242.6L979.9 331.6L973.6 420.6L979.4 509.6L989.8 598.6L998.1 687.6L998.6 776.7L994.8 865.7L987.8 954.7L987.3 1043.7L993.6 1132.8L1001.1 1221.8L1008.6 1310.8L1014.8 1399.8L1019.1 1488.8" stroke="#4BA3E3" stroke-width="6.4" fill="none" stroke-linejoin="round" stroke-linecap="butt"/>
<path d="M1142.1 153.5L1027.3 242.6L987.8 331.6L1002.3 420.6L1009.8 509.6L1014.8 598.6L1023.5 687.6L1018.6 776.7L981.6 865.7L951.6 954.7L956.1 1043.7L976.1 1132.8L988.6 1221.8L993.6 1310.8L993.6 1399.8L989.8 1488.8" stroke="#540858" stroke-width="6.4" fill="none" stroke-linejoin="round" stroke-linecap="butt"/>
<path d="M1155.9 153.5L1140.9 242.6L1132.2 331.6L1129.7 420.6L1132.2 509.6L1139.7 598.6L1145.9 687.6L1150.9 776.7L1153.4 865.7L1152.1 954.7L1147.1 1043.7L1139.7 1132.8L1132.2 1221.8L1127.2 1310.8L1125.9 1399.8L1128.4 1488.8L1039.8 1488.8L1059.8 1399.8L1074.7 1310.8L1084.7 1221.8L1089.7 1132.8L1094.7 1043.7L1097.2 954.7L1097.2 865.7L1096 776.7L1092.2 687.6L1087.2 598.6L1084.7 509.6L1082.2 420.6L1079.7 331.6L1074.7 242.6L1067.2 153.5Z" fill="#E0900E" fill-opacity="0.1"/>
<path d="M1142.1 153.5L1097.2 242.6L1082.2 331.6L1082.2 420.6L1084.7 509.6L1089.7 598.6L1097.2 687.6L1103.4 776.7L1105.9 865.7L1103.4 954.7L1099.7 1043.7L1094.7 1132.8L1089.7 1221.8L1089.7 1310.8L1091 1399.8L1093.5 1488.8L996.1 1488.8L1019.8 1399.8L1032.3 1310.8L1038.5 1221.8L1039.8 1132.8L1039.8 1043.7L1041 954.7L1042.3 865.7L1044.8 776.7L1044.8 687.6L1037.3 598.6L1036 509.6L1032.3 420.6L1028.5 331.6L1033.5 242.6L1043.5 153.5Z" fill="#169262" fill-opacity="0.1"/>
<path d="M1072.2 153.5L1032.3 242.6L1009.8 331.6L999.8 420.6L1004.8 509.6L1017.3 598.6L1024.8 687.6L1029.8 776.7L1024.8 865.7L1019.8 954.7L1017.3 1043.7L1022.3 1132.8L1029.8 1221.8L1039.8 1310.8L1052.3 1399.8L1069.7 1488.8L967.4 1488.8L974.9 1399.8L977.4 1310.8L972.4 1221.8L964.9 1132.8L957.4 1043.7L957.4 954.7L964.9 865.7L967.4 776.7L967.4 687.6L962.4 598.6L952.4 509.6L948.6 420.6L951.1 331.6L959.9 242.6L972.4 153.5Z" fill="#4BA3E3" fill-opacity="0.1"/>
<path d="M1194.6 153.5L1059.8 242.6L1019.8 331.6L1032.3 420.6L1039.8 509.6L1047.3 598.6L1057.3 687.6L1057.3 776.7L1019.8 865.7L984.8 954.7L987.3 1043.7L1007.3 1132.8L1017.3 1221.8L1027.3 1310.8L1034.8 1399.8L1043.5 1488.8L936.2 1488.8L952.4 1399.8L959.9 1310.8L959.9 1221.8L943.6 1132.8L924.9 1043.7L918.7 954.7L942.4 865.7L982.3 776.7L992.3 687.6L982.3 598.6L982.3 509.6L972.4 420.6L958.6 331.6L996.1 242.6L1091 153.5Z" fill="#540858" fill-opacity="0.1"/>
</g>
<rect x="903.7" y="87.9" width="316" height="1466.8" fill="none" stroke="#333333" stroke-width="1.75"/>
<path d="M999.5 86.9V79.2M1109.5 86.9V79.2M1219.5 86.9V79.2M902.7 242.6H895M902.7 598.6H895M902.7 954.7H895M902.7 1310.8H895" stroke="#222222" stroke-width="2.9" fill="none"/>
<text x="999.5" y="73.3" text-anchor="middle" class="tk">-2</text>
<text x="1109.5" y="73.3" text-anchor="middle" class="tk">-1</text>
<text x="1219.5" y="73.3" text-anchor="middle" class="tk">0</text>
<text x="888.1" y="252.2" text-anchor="end" class="tk">1</text>
<text x="888.1" y="608.2" text-anchor="end" class="tk">2</text>
<text x="888.1" y="964.3" text-anchor="end" class="tk">3</text>
<text x="888.1" y="1320.4" text-anchor="end" class="tk">4</text>
<text transform="translate(857.9 821.5) rotate(-90)" text-anchor="middle" class="ti">depth (m)</text>
<clipPath id="clipD"><rect x="1320.9" y="91.9" width="316.1" height="1462.8"/></clipPath>
<g clip-path="url(#clipD)">
<path d="M1353.8 91.9V1554.7M1416.1 91.9V1554.7M1478.5 91.9V1554.7M1540.8 91.9V1554.7M1603.2 91.9V1554.7M1320.9 424.1H1637M1320.9 779.1H1637M1320.9 1134.1H1637M1320.9 1489.1H1637" stroke="#EBEBEB" stroke-width="1.5" fill="none"/>
<path d="M1322.6 91.9V1554.7M1384.9 91.9V1554.7M1447.3 91.9V1554.7M1509.6 91.9V1554.7M1572 91.9V1554.7M1634.3 91.9V1554.7M1320.9 246.6H1637M1320.9 601.6H1637M1320.9 956.6H1637M1320.9 1311.6H1637" stroke="#EBEBEB" stroke-width="3" fill="none"/>
<g stroke="#E0900E" stroke-opacity="0.6" stroke-width="1.7" fill="none" stroke-linejoin="round"><use href="#mtu" x="1479.2" y="157.8"/><use href="#mtd" x="1490.4" y="157.8"/><use href="#mpl" x="1531.6" y="157.8"/><use href="#mtd" x="1471.7" y="246.6"/><use href="#mtu" x="1495.4" y="246.6"/><use href="#mpl" x="1506.7" y="246.6"/><use href="#mpl" x="1449.2" y="335.4"/><use href="#mtu" x="1504.2" y="335.4"/><use href="#mtd" x="1516.7" y="335.4"/><use href="#mpl" x="1484.2" y="424.1"/><use href="#mtd" x="1489.2" y="424.1"/><use href="#mtu" x="1501.7" y="424.1"/><use href="#mtu" x="1456.7" y="512.9"/><use href="#mpl" x="1489.2" y="512.9"/><use href="#mtd" x="1506.7" y="512.9"/><use href="#mtd" x="1486" y="601.6"/><use href="#mpl" x="1486" y="601.6"/><use href="#mtu" x="1552.9" y="601.6"/><use href="#mtu" x="1510.4" y="690.4"/><use href="#mpl" x="1531.6" y="690.4"/><use href="#mtu" x="1483.7" y="779.1"/><use href="#mpl" x="1541.6" y="779.1"/><use href="#mpl" x="1469.2" y="867.9"/><use href="#mtu" x="1478" y="867.9"/><use href="#mtd" x="1484.2" y="867.9"/><use href="#mpl" x="1529.1" y="956.6"/><use href="#mtu" x="1539.1" y="956.6"/><use href="#mtd" x="1581.6" y="956.6"/><use href="#mtd" x="1502.9" y="1045.3"/><use href="#mtu" x="1520.4" y="1045.3"/><use href="#mpl" x="1526.7" y="1045.3"/><use href="#mtd" x="1499.2" y="1134.1"/><use href="#mpl" x="1501.7" y="1134.1"/><use href="#mtu" x="1525.4" y="1134.1"/><use href="#mpl" x="1501.7" y="1222.8"/><use href="#mtu" x="1499.2" y="1222.8"/><use href="#mtd" x="1500.4" y="1222.8"/><use href="#mpl" x="1504.2" y="1311.6"/><use href="#mtu" x="1510.4" y="1311.6"/><use href="#mtd" x="1519.2" y="1311.6"/><use href="#mtu" x="1481.7" y="1400.3"/><use href="#mpl" x="1494.2" y="1400.3"/><use href="#mtd" x="1526.7" y="1400.3"/><use href="#mtu" x="1436.8" y="1489.1"/><use href="#mtd" x="1463.7" y="1489.1"/><use href="#mpl" x="1439.3" y="1489.1"/></g>
<g stroke="#169262" stroke-opacity="0.6" stroke-width="1.7" fill="none" stroke-linejoin="round"><use href="#mcp" x="1361.4" y="157.8"/><use href="#msq" x="1466.7" y="157.8"/><use href="#mst" x="1468" y="157.8"/><use href="#mst" x="1419.8" y="246.6"/><use href="#mcp" x="1461.7" y="246.6"/><use href="#msq" x="1475.5" y="246.6"/><use href="#mcp" x="1405.1" y="335.4"/><use href="#msq" x="1459.2" y="335.4"/><use href="#mst" x="1474.2" y="335.4"/><use href="#msq" x="1468" y="424.1"/><use href="#mcp" x="1480.5" y="424.1"/><use href="#mst" x="1507.4" y="424.1"/><use href="#mcp" x="1473" y="512.9"/><use href="#msq" x="1475.5" y="512.9"/><use href="#mst" x="1475.5" y="512.9"/><use href="#msq" x="1436" y="601.6"/><use href="#mcp" x="1501.7" y="601.6"/><use href="#mst" x="1524.2" y="601.6"/><use href="#mcp" x="1475.5" y="690.4"/><use href="#mst" x="1487.4" y="690.4"/><use href="#msq" x="1481.7" y="690.4"/><use href="#mst" x="1451" y="779.1"/><use href="#mcp" x="1460.5" y="779.1"/><use href="#msq" x="1460.5" y="779.1"/><use href="#mst" x="1478" y="867.9"/><use href="#mcp" x="1479.2" y="867.9"/><use href="#msq" x="1502.9" y="867.9"/><use href="#msq" x="1487.2" y="956.6"/><use href="#mst" x="1507.9" y="956.6"/><use href="#mcp" x="1524.2" y="956.6"/><use href="#msq" x="1416.8" y="1045.3"/><use href="#mcp" x="1496.7" y="1045.3"/><use href="#mst" x="1529.1" y="1045.3"/><use href="#msq" x="1451.7" y="1134.1"/><use href="#mst" x="1476.7" y="1134.1"/><use href="#mcp" x="1521.7" y="1134.1"/><use href="#msq" x="1438.8" y="1222.8"/><use href="#mst" x="1492.9" y="1222.8"/><use href="#mcp" x="1497.9" y="1222.8"/><use href="#mcp" x="1417.5" y="1311.6"/><use href="#msq" x="1416.8" y="1311.6"/><use href="#mst" x="1480.5" y="1311.6"/><use href="#msq" x="1371.3" y="1400.3"/><use href="#mcp" x="1416.8" y="1400.3"/><use href="#mst" x="1439.3" y="1400.3"/><use href="#mst" x="1372.3" y="1489.1"/><use href="#msq" x="1390.6" y="1489.1"/><use href="#mcp" x="1404.3" y="1489.1"/></g>
<g stroke="#4BA3E3" stroke-opacity="0.6" stroke-width="1.7" fill="none" stroke-linejoin="round"><use href="#mas" x="1354.4" y="157.8"/><use href="#mci" x="1378.1" y="157.8"/><use href="#msx" x="1422.3" y="157.8"/><use href="#mas" x="1372.6" y="246.6"/><use href="#msx" x="1396.8" y="246.6"/><use href="#mci" x="1406.8" y="246.6"/><use href="#mas" x="1413" y="335.4"/><use href="#msx" x="1414.3" y="335.4"/><use href="#mci" x="1409.3" y="335.4"/><use href="#msx" x="1429.3" y="424.1"/><use href="#mci" x="1445.5" y="424.1"/><use href="#mas" x="1451.7" y="424.1"/><use href="#mci" x="1413" y="512.9"/><use href="#msx" x="1419.3" y="512.9"/><use href="#mas" x="1430.5" y="512.9"/><use href="#mas" x="1409.3" y="601.6"/><use href="#mci" x="1411.8" y="601.6"/><use href="#msx" x="1415.5" y="601.6"/><use href="#mci" x="1374.3" y="690.4"/><use href="#msx" x="1399.3" y="690.4"/><use href="#mas" x="1403.1" y="690.4"/><use href="#mas" x="1374.3" y="779.1"/><use href="#mci" x="1381.8" y="779.1"/><use href="#msx" x="1385.6" y="779.1"/><use href="#mas" x="1369.8" y="867.9"/><use href="#msx" x="1394.3" y="867.9"/><use href="#mci" x="1421.8" y="867.9"/><use href="#mas" x="1397.6" y="956.6"/><use href="#msx" x="1408" y="956.6"/><use href="#mci" x="1418" y="956.6"/><use href="#msx" x="1425.5" y="1045.3"/><use href="#mas" x="1433" y="1045.3"/><use href="#mci" x="1452.5" y="1045.3"/><use href="#msx" x="1406.8" y="1134.1"/><use href="#mas" x="1440.5" y="1134.1"/><use href="#mci" x="1458" y="1134.1"/><use href="#mci" x="1413" y="1222.8"/><use href="#mas" x="1420.5" y="1222.8"/><use href="#msx" x="1421.8" y="1222.8"/><use href="#mci" x="1343.6" y="1311.6"/><use href="#msx" x="1400.6" y="1311.6"/><use href="#mas" x="1406.8" y="1311.6"/><use href="#mci" x="1346.4" y="1400.3"/><use href="#mas" x="1431.8" y="1400.3"/><use href="#msx" x="1429.3" y="1400.3"/><use href="#mas" x="1406.8" y="1489.1"/><use href="#msx" x="1440.5" y="1489.1"/><use href="#mci" x="1439.3" y="1489.1"/></g>
<g stroke="#540858" stroke-opacity="0.6" stroke-width="1.7" fill="none" stroke-linejoin="round"><use href="#mdp" x="1349.4" y="157.8"/><use href="#mdi" x="1369.3" y="157.8"/><use href="#mcr" x="1371.8" y="157.8"/><use href="#mdp" x="1416.8" y="246.6"/><use href="#mdi" x="1416.8" y="246.6"/><use href="#mcr" x="1434.8" y="246.6"/><use href="#mdi" x="1403.8" y="335.4"/><use href="#mcr" x="1421.8" y="335.4"/><use href="#mdp" x="1432.5" y="335.4"/><use href="#mdp" x="1425" y="424.1"/><use href="#mdi" x="1425.5" y="424.1"/><use href="#mcr" x="1496.7" y="424.1"/><use href="#mdi" x="1410.5" y="512.9"/><use href="#mdp" x="1420" y="512.9"/><use href="#mcr" x="1421.8" y="512.9"/><use href="#mdp" x="1391.8" y="601.6"/><use href="#mdi" x="1393.1" y="601.6"/><use href="#mcr" x="1406.8" y="601.6"/><use href="#mcr" x="1351.4" y="690.4"/><use href="#mdi" x="1380.6" y="690.4"/><use href="#mdp" x="1384.3" y="690.4"/><use href="#mdi" x="1365.6" y="779.1"/><use href="#mdp" x="1434.3" y="867.9"/><use href="#mcr" x="1520.4" y="867.9"/><use href="#mdp" x="1512.9" y="956.6"/><use href="#mdi" x="1519.2" y="956.6"/><use href="#mcr" x="1564.1" y="956.6"/><use href="#mdi" x="1522.9" y="1045.3"/><use href="#mdp" x="1557.9" y="1045.3"/><use href="#mcr" x="1559.1" y="1045.3"/><use href="#mdi" x="1519.2" y="1134.1"/><use href="#mcr" x="1566.6" y="1134.1"/><use href="#mdp" x="1622.8" y="1134.1"/><use href="#mdp" x="1512.9" y="1222.8"/><use href="#mcr" x="1522.9" y="1222.8"/><use href="#mdi" x="1541.6" y="1222.8"/><use href="#mdi" x="1425.5" y="1311.6"/><use href="#mdp" x="1438.8" y="1311.6"/><use href="#mcr" x="1556.6" y="1311.6"/><use href="#mdi" x="1474.7" y="1400.3"/><use href="#mcr" x="1474.7" y="1400.3"/><use href="#mdp" x="1529.1" y="1400.3"/><use href="#mdi" x="1435.5" y="1489.1"/><use href="#mcr" x="1469.2" y="1489.1"/><use href="#mdp" x="1539.1" y="1489.1"/></g>
<path d="M1499.9 157.8L1499.9 246.6L1500.9 335.4L1503.4 424.1L1508.4 512.9L1516.7 601.6L1522.4 690.4L1527.9 779.1L1530.4 867.9L1531.6 956.6L1528.4 1045.3L1521.7 1134.1L1512.9 1222.8L1501.7 1311.6L1489.2 1400.3L1475.5 1489.1" stroke="#E0900E" stroke-width="6.4" fill="none" stroke-linejoin="round" stroke-linecap="butt"/>
<path d="M1451.7 157.8L1460.5 246.6L1470.5 335.4L1479.2 424.1L1485.2 512.9L1487.4 601.6L1489.2 690.4L1491.7 779.1L1494.9 867.9L1498.7 956.6L1497.9 1045.3L1489.2 1134.1L1471.7 1222.8L1446.8 1311.6L1420.5 1400.3L1396.8 1489.1" stroke="#169262" stroke-width="6.4" fill="none" stroke-linejoin="round" stroke-linecap="butt"/>
<path d="M1391.8 157.8L1403.1 246.6L1419.3 335.4L1428 424.1L1423.8 512.9L1409.3 601.6L1396.8 690.4L1394.3 779.1L1401.8 867.9L1416.8 956.6L1430.5 1045.3L1431.8 1134.1L1423 1222.8L1412.5 1311.6L1412.5 1400.3L1418.8 1489.1" stroke="#4BA3E3" stroke-width="6.4" fill="none" stroke-linejoin="round" stroke-linecap="butt"/>
<path d="M1369.3 157.8L1415.5 246.6L1444.3 335.4L1447.5 424.1L1425.8 512.9L1394.3 601.6L1388.1 690.4L1421.8 779.1L1479.2 867.9L1534.1 956.6L1565.4 1045.3L1571.6 1134.1L1554.6 1222.8L1522.9 1311.6L1499.2 1400.3L1489.2 1489.1" stroke="#540858" stroke-width="6.4" fill="none" stroke-linejoin="round" stroke-linecap="butt"/>
<path d="M1530.4 157.8L1525.4 246.6L1522.9 335.4L1522.9 424.1L1529.1 512.9L1537.9 601.6L1542.9 690.4L1546.6 779.1L1550.4 867.9L1551.6 956.6L1547.9 1045.3L1541.6 1134.1L1534.1 1222.8L1524.2 1311.6L1514.2 1400.3L1506.7 1489.1L1449.2 1489.1L1464.2 1400.3L1479.2 1311.6L1492.9 1222.8L1501.7 1134.1L1507.9 1045.3L1511.7 956.6L1510.4 867.9L1506.7 779.1L1501.7 690.4L1494.2 601.6L1486.7 512.9L1483 424.1L1479.2 335.4L1474.2 246.6L1470.5 157.8Z" fill="#E0900E" fill-opacity="0.1"/>
<path d="M1484.2 157.8L1489.2 246.6L1496.7 335.4L1501.7 424.1L1506.7 512.9L1509.2 601.6L1509.2 690.4L1511.7 779.1L1515.4 867.9L1519.2 956.6L1517.9 1045.3L1510.4 1134.1L1494.2 1222.8L1476.7 1311.6L1454.2 1400.3L1431.8 1489.1L1366.9 1489.1L1394.3 1400.3L1424.3 1311.6L1449.2 1222.8L1466.7 1134.1L1476.7 1045.3L1478 956.6L1474.2 867.9L1471.7 779.1L1469.2 690.4L1466.7 601.6L1461.7 512.9L1455.5 424.1L1444.3 335.4L1431.8 246.6L1421.8 157.8Z" fill="#169262" fill-opacity="0.1"/>
<path d="M1426.8 157.8L1436.8 246.6L1446.8 335.4L1454.2 424.1L1446.8 512.9L1431.8 601.6L1419.3 690.4L1416.8 779.1L1424.3 867.9L1439.3 956.6L1453 1045.3L1454.2 1134.1L1445.5 1222.8L1446.8 1311.6L1446.8 1400.3L1446.8 1489.1L1381.8 1489.1L1384.3 1400.3L1390.6 1311.6L1400.6 1222.8L1409.3 1134.1L1408 1045.3L1394.3 956.6L1379.3 867.9L1371.8 779.1L1374.3 690.4L1388.1 601.6L1401.8 512.9L1406.8 424.1L1396.8 335.4L1376.8 246.6L1360.6 157.8Z" fill="#4BA3E3" fill-opacity="0.1"/>
<path d="M1406.8 157.8L1444.3 246.6L1469.2 335.4L1473 424.1L1454.2 512.9L1416.8 601.6L1414.3 690.4L1444.3 779.1L1501.7 867.9L1556.6 956.6L1587.8 1045.3L1595.3 1134.1L1576.6 1222.8L1551.6 1311.6L1529.1 1400.3L1524.2 1489.1L1456.7 1489.1L1474.2 1400.3L1499.2 1311.6L1530.4 1222.8L1549.1 1134.1L1542.9 1045.3L1511.7 956.6L1459.2 867.9L1399.3 779.1L1364.4 690.4L1371.8 601.6L1401.8 512.9L1421.8 424.1L1419.3 335.4L1386.8 246.6L1334.4 157.8Z" fill="#540858" fill-opacity="0.1"/>
</g>
<rect x="1320.9" y="91.9" width="316.1" height="1462.8" fill="none" stroke="#333333" stroke-width="1.75"/>
<path d="M1322.6 90.9V83.2M1384.9 90.9V83.2M1447.3 90.9V83.2M1509.6 90.9V83.2M1572 90.9V83.2M1634.3 90.9V83.2M1319.9 246.6H1312.2M1319.9 601.6H1312.2M1319.9 956.6H1312.2M1319.9 1311.6H1312.2" stroke="#222222" stroke-width="2.9" fill="none"/>
<text x="1322.6" y="77.3" text-anchor="middle" class="tk">-6</text>
<text x="1384.9" y="77.3" text-anchor="middle" class="tk">-5</text>
<text x="1447.3" y="77.3" text-anchor="middle" class="tk">-4</text>
<text x="1509.6" y="77.3" text-anchor="middle" class="tk">-3</text>
<text x="1572" y="77.3" text-anchor="middle" class="tk">-2</text>
<text x="1634.3" y="77.3" text-anchor="middle" class="tk">-1</text>
<text x="1305.3" y="256.2" text-anchor="end" class="tk">1</text>
<text x="1305.3" y="611.2" text-anchor="end" class="tk">2</text>
<text x="1305.3" y="966.2" text-anchor="end" class="tk">3</text>
<text x="1305.3" y="1321.2" text-anchor="end" class="tk">4</text>
<text transform="translate(1274.9 823.5) rotate(-90)" text-anchor="middle" class="ti">depth (m)</text>
<text x="3.6" y="24" class="tag">A</text>
<text x="419.5" y="24" class="tag">B</text>
<text x="839.1" y="24" class="tag">C</text>
<text x="1256.5" y="24" class="tag">D</text>
<text class="ti" y="41.8"><tspan x="119.2">log</tspan><tspan x="179.3">K</tspan><tspan x="200.6" dy="5.4" class="ss">T</tspan><tspan x="222.7" dy="-5.4">(</tspan><tspan x="242.2">m</tspan><tspan x="268.9" dy="-15.7" class="ss">2</tspan><tspan x="298.3" dy="15.7">s</tspan><tspan x="324.3">)</tspan></text><text class="ti" transform="translate(284.6 46.9) scale(1.22 1.43)">/</text>
<text class="ti" y="41.8"><tspan x="544.6">log</tspan><tspan x="597.3" class="sy">ε</tspan><tspan x="618">(</tspan><tspan x="638">m</tspan><tspan x="664.7" dy="-15.7" class="ss">2</tspan><tspan x="694.3" dy="15.7">s</tspan><tspan x="711.4" dy="-15.7" class="ss">3</tspan><tspan x="732.6" dy="15.7">)</tspan></text><text class="ti" transform="translate(680.6 46.9) scale(1.22 1.43)">/</text>
<text class="ti" y="33.4"><tspan x="976.7">log</tspan><tspan x="1036.8">L</tspan><tspan x="1054.7" dy="5.4" class="ss">O</tspan><tspan x="1080.7" dy="-5.4">(</tspan><tspan x="1099.5">m</tspan><tspan x="1135.7">)</tspan></text>
<text class="ti" y="36.9"><tspan x="1299.5" style="letter-spacing:-0.08px">log velocity thres.</tspan><tspan x="1558.5">(</tspan><tspan x="1577.8">m</tspan><tspan x="1621.5">s</tspan><tspan x="1647.5">)</tspan></text><text class="ti" transform="translate(1606.5 42) scale(1.22 1.43)">/</text>
<text x="494.3" y="1625.2" class="ti" style="font-size:32.9px">Treatment</text>
<path d="M663.9 1613.4H704.2" stroke="#E0900E" stroke-width="6.6"/>
<text x="724.8" y="1622.7" class="lg">CVT</text>
<path d="M799.5 1613.4H839.6" stroke="#169262" stroke-width="6.6"/>
<text x="860.1999999999999" y="1622.7" class="lg">IT</text>
<path d="M905.1 1613.4H945.4" stroke="#4BA3E3" stroke-width="6.6"/>
<text x="965.8" y="1622.7" class="lg">NIT</text>
<path d="M1029.8 1613.4H1070.1" stroke="#540858" stroke-width="6.6"/>
<text x="1091.3000000000002" y="1622.7" class="lg">STR</text>
</svg></body></html>
